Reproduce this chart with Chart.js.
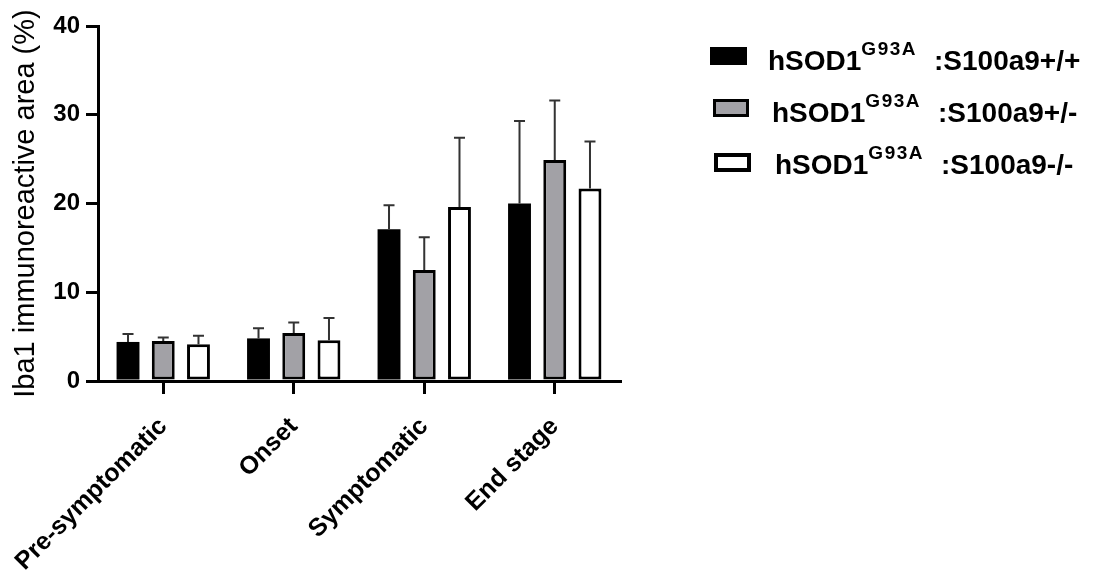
<!DOCTYPE html>
<html>
<head>
<meta charset="utf-8">
<script src="https://cdn.jsdelivr.net/npm/chart.js@4/dist/chart.umd.min.js"></script>
<style>
  html, body { margin: 0; padding: 0; background: #fff; }
  #wrap { position: relative; width: 1096px; height: 573px; }
  .lg-box { position: absolute; box-sizing: border-box; }
  .lg-text {
    position: absolute; font-family: "Liberation Sans", Arial, sans-serif;
    font-weight: bold; font-size: 28px; line-height: 28px; color: #000; white-space: nowrap;
  }
  .lg-text sup { font-size: 19px; letter-spacing: 1.5px; position: relative; top: -15px; vertical-align: baseline; }
  .lg-text .tail { margin-left: 17px; }
</style>
</head>
<body>
<div id="wrap">
  <canvas id="chart" width="1096" height="573"></canvas>
  <div class="lg-box" style="left:710px;top:47px;width:37px;height:18px;background:#000;"></div>
  <div class="lg-text" style="left:768px;top:47px;">hSOD1<sup>G93A</sup><span class="tail">:S100a9+/+</span></div>
  <div class="lg-box" style="left:713px;top:99px;width:36px;height:18px;background:#a2a1a6;border:3.5px solid #000;"></div>
  <div class="lg-text" style="left:772px;top:99px;">hSOD1<sup>G93A</sup><span class="tail">:S100a9+/-</span></div>
  <div class="lg-box" style="left:714px;top:153px;width:37px;height:19px;background:#fff;border:4.5px solid #000;"></div>
  <div class="lg-text" style="left:775px;top:151px;">hSOD1<sup>G93A</sup><span class="tail">:S100a9-/-</span></div>
</div>
<script>
const stages = ['Pre-symptomatic', 'Onset', 'Symptomatic', 'End stage'];
const groups = ['hSOD1 G93A :S100a9+/+', 'hSOD1 G93A :S100a9+/-', 'hSOD1 G93A :S100a9-/-'];

// mean values (%)
const wildMean = [4.4, 4.8, 17.1, 20.0];
const hetMean = [4.5, 5.4, 12.5, 24.9];
const koMean = [4.15, 4.6, 19.6, 21.7];

// upper error (SD)
const wildSd = [0.9, 1.15, 2.7, 9.3];
const hetSd = [0.4, 1.2, 3.7, 6.7];
const koSd = [0.95, 2.5, 7.8, 5.3];

const yTicks = [0, 10, 20, 30, 40];

const fontFamily = '"Liberation Sans", Arial, sans-serif';

const errorBars = {
  id: 'errorBars',
  afterDatasetsDraw(chart) {
    const ctx = chart.ctx;
    const y = chart.scales.y;
    ctx.save();
    ctx.strokeStyle = '#333';
    ctx.lineWidth = 2;
    chart.data.datasets.forEach((ds, i) => {
      const meta = chart.getDatasetMeta(i);
      meta.data.forEach((bar, j) => {
        const top = y.getPixelForValue(ds.data[j] + ds.sd[j]);
        const base = y.getPixelForValue(ds.data[j]);
        ctx.beginPath();
        ctx.moveTo(bar.x, base);
        ctx.lineTo(bar.x, top);
        ctx.moveTo(bar.x - 5.5, top);
        ctx.lineTo(bar.x + 5.5, top);
        ctx.stroke();
      });
    });
    ctx.restore();
  }
};

new Chart(document.getElementById('chart'), {
  type: 'bar',
  data: {
    labels: stages,
    datasets: [
      { label: groups[0], data: wildMean, sd: wildSd, backgroundColor: '#000', borderWidth: 0 },
      { label: groups[1], data: hetMean, sd: hetSd, backgroundColor: '#a2a1a6', borderColor: '#000', borderWidth: 3, borderSkipped: false },
      { label: groups[2], data: koMean, sd: koSd, backgroundColor: '#fff', borderColor: '#000', borderWidth: 3, borderSkipped: false }
    ]
  },
  options: {
    responsive: false,
    animation: false,
    events: [],
    categoryPercentage: 0.81,
    barPercentage: 0.65,
    layout: { padding: { left: 0, top: 26, right: 476, bottom: 0 } },
    plugins: { legend: { display: false }, tooltip: { enabled: false } },
    scales: {
      x: {
        offset: true,
        grid: { offset: false, drawOnChartArea: false, drawTicks: true, tickLength: 13, color: '#000', lineWidth: 3 },
        border: { color: '#000', width: 3 },
        ticks: {
          color: '#000', maxRotation: 45, minRotation: 45, padding: 18,
          font: { family: fontFamily, size: 25, weight: 'bold' }
        },
        afterFit(scale) {
          scale.height = 192;
          scale.paddingLeft = 0;
          scale.paddingRight = 0;
        }
      },
      y: {
        min: 0, max: 40,
        afterBuildTicks(scale) { scale.ticks = yTicks.map(v => ({ value: v })); },
        grid: { drawOnChartArea: false, drawTicks: true, tickLength: 12, color: '#000', lineWidth: 3 },
        border: { color: '#000', width: 3 },
        ticks: {
          color: '#000', padding: 6,
          font: { family: fontFamily, size: 24, weight: 'bold' }
        },
        title: {
          display: true, text: 'Iba1 immunoreactive area (%)', color: '#000',
          font: { family: fontFamily, size: 29, weight: 'normal' },
          padding: { top: 9, bottom: 0 }
        },
        afterFit(scale) { scale.width = 98; }
      }
    }
  },
  plugins: [errorBars]
});
</script>
</body>
</html>
